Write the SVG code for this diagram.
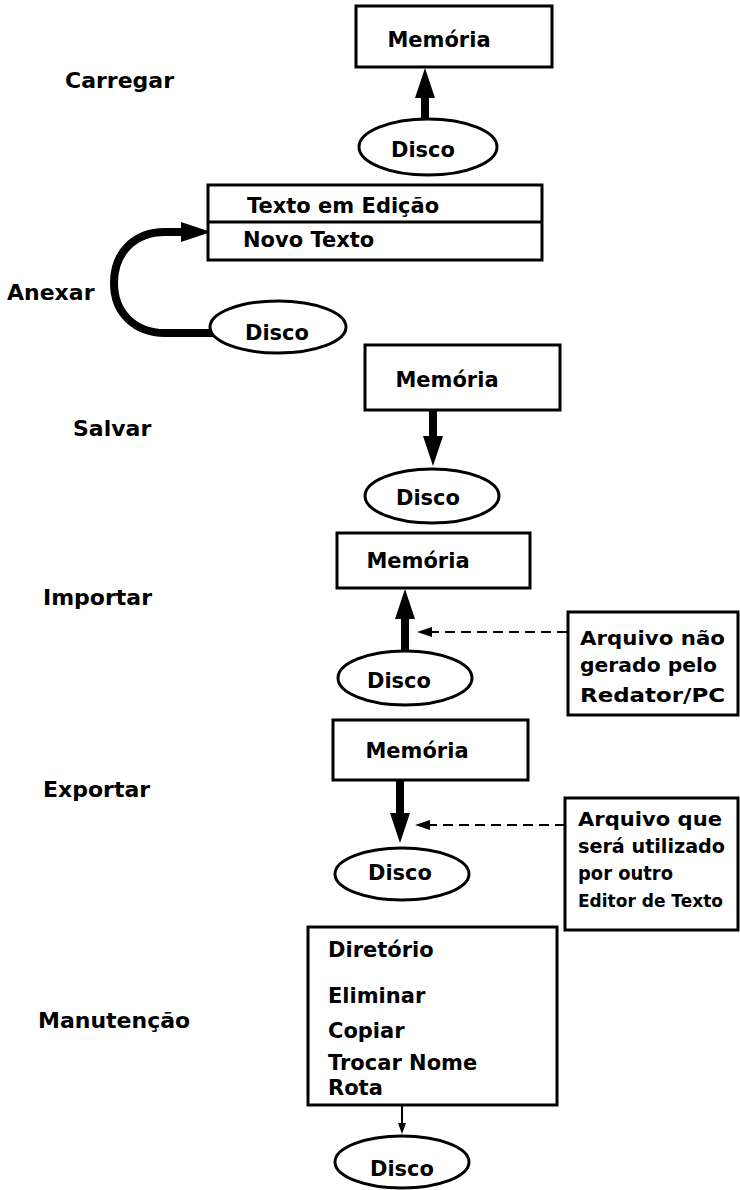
<svg xmlns="http://www.w3.org/2000/svg" width="740" height="1190" viewBox="0 0 740 1190">
<style>
text{font-family:"DejaVu Sans","Liberation Sans",sans-serif;font-weight:bold;fill:#000}
.lbl{font-size:22px}
.t{font-size:21px}
.n{font-size:20px}
.box{fill:#fff;stroke:#000;stroke-width:3}
.disc{fill:#fff;stroke:#000;stroke-width:3}
.thick{fill:none;stroke:#000;stroke-width:8}
.dash{fill:none;stroke:#000;stroke-width:2;stroke-dasharray:10,6}
.thin{fill:none;stroke:#000;stroke-width:2}
</style>
<defs>
<marker id="big" markerUnits="userSpaceOnUse" markerWidth="32" markerHeight="22" refX="0" refY="11" orient="auto">
<path d="M0,1 L30,11 L0,21 z" fill="#000"/>
</marker>
<marker id="small" markerUnits="userSpaceOnUse" markerWidth="16" markerHeight="12" refX="0" refY="6" orient="auto">
<path d="M0,1 L15,6 L0,11 z" fill="#000"/>
</marker>
<marker id="tiny" markerUnits="userSpaceOnUse" markerWidth="12" markerHeight="10" refX="0" refY="4" orient="auto">
<path d="M0,0 L11,4 L0,8 z" fill="#000"/>
</marker>
</defs>
<rect width="740" height="1190" fill="#fff"/>

<g id="labels">
<text class="lbl" x="65" y="88">Carregar</text>
<text class="lbl" x="7" y="300">Anexar</text>
<text class="lbl" x="73" y="436">Salvar</text>
<text class="lbl" x="43" y="605">Importar</text>
<text class="lbl" x="43" y="797">Exportar</text>
<text class="lbl" x="38" y="1028">Manutenção</text>
</g>

<g id="connectors">
<line class="thick" x1="425" y1="118" x2="425" y2="98" marker-end="url(#big)"/>
<path class="thick" d="M213,333 L165,333 C135,333 114,313 114,283 C114,252 135,232 165,232 L181,232" stroke-width="11" marker-end="url(#big)"/>
<line class="thick" x1="433" y1="410" x2="433" y2="436" marker-end="url(#big)"/>
<line class="thick" x1="405" y1="652" x2="405" y2="619" marker-end="url(#big)"/>
<line class="dash" x1="567" y1="632" x2="432" y2="632" marker-end="url(#small)"/>
<line class="thick" x1="400" y1="780" x2="400" y2="813" marker-end="url(#big)"/>
<line class="dash" x1="565" y1="825" x2="430" y2="825" marker-end="url(#small)"/>
<line class="thin" x1="402" y1="1105" x2="402" y2="1123" marker-end="url(#tiny)"/>
</g>

<g id="carregar-memoria">
<rect class="box" x="356" y="6" width="196" height="61"/>
<text class="t" x="439" y="47" text-anchor="middle">Memória</text>
</g>
<g id="carregar-disco">
<ellipse class="disc" cx="428" cy="147" rx="69" ry="28"/>
<text class="t" x="423" y="157" text-anchor="middle">Disco</text>
</g>

<g id="anexar-texto">
<rect class="box" x="208" y="185" width="334" height="75"/>
<line x1="208" y1="222" x2="542" y2="222" stroke="#000" stroke-width="3"/>
<text class="t" x="247" y="213">Texto em Edição</text>
<text class="t" x="243" y="247">Novo Texto</text>
</g>
<g id="anexar-disco">
<ellipse class="disc" cx="278" cy="327" rx="68" ry="26"/>
<text class="t" x="277" y="340" text-anchor="middle">Disco</text>
</g>

<g id="salvar-memoria">
<rect class="box" x="365" y="345" width="195" height="65"/>
<text class="t" x="447" y="387" text-anchor="middle">Memória</text>
</g>
<g id="salvar-disco">
<ellipse class="disc" cx="432" cy="496" rx="67" ry="27"/>
<text class="t" x="428" y="505" text-anchor="middle">Disco</text>
</g>

<g id="importar-memoria">
<rect class="box" x="337" y="533" width="193" height="55"/>
<text class="t" x="418" y="568" text-anchor="middle">Memória</text>
</g>
<g id="importar-disco">
<ellipse class="disc" cx="405" cy="678" rx="67" ry="27"/>
<text class="t" x="399" y="688" text-anchor="middle">Disco</text>
</g>
<g id="importar-nota">
<rect class="box" x="568" y="612" width="170" height="103"/>
<text class="n" x="580" y="645" textLength="145" lengthAdjust="spacingAndGlyphs">Arquivo não</text>
<text class="n" x="580" y="672" textLength="137" lengthAdjust="spacingAndGlyphs">gerado pelo</text>
<text class="n" x="580" y="702" textLength="145" lengthAdjust="spacingAndGlyphs">Redator/PC</text>
</g>

<g id="exportar-memoria">
<rect class="box" x="333" y="720" width="195" height="60"/>
<text class="t" x="417" y="758" text-anchor="middle">Memória</text>
</g>
<g id="exportar-disco">
<ellipse class="disc" cx="402" cy="874" rx="67" ry="26"/>
<text class="t" x="400" y="880" text-anchor="middle">Disco</text>
</g>
<g id="exportar-nota">
<rect class="box" x="565" y="798" width="173" height="132"/>
<text class="n" x="578" y="826" textLength="144" lengthAdjust="spacingAndGlyphs">Arquivo  que</text>
<text class="n" x="578" y="853" textLength="147" lengthAdjust="spacingAndGlyphs">será utilizado</text>
<text class="n" x="578" y="880" textLength="95" lengthAdjust="spacingAndGlyphs">por outro</text>
<text x="578" y="907" font-size="17">Editor de Texto</text>
</g>

<g id="manutencao-menu">
<rect class="box" x="308" y="927" width="249" height="178"/>
<text class="t" x="328" y="957">Diretório</text>
<text class="t" x="328" y="1003">Eliminar</text>
<text class="t" x="328" y="1038">Copiar</text>
<text class="t" x="328" y="1070">Trocar Nome</text>
<text class="t" x="328" y="1095">Rota</text>
</g>
<g id="manutencao-disco">
<ellipse class="disc" cx="402" cy="1162" rx="67" ry="26"/>
<text class="t" x="402" y="1176" text-anchor="middle">Disco</text>
</g>
</svg>
